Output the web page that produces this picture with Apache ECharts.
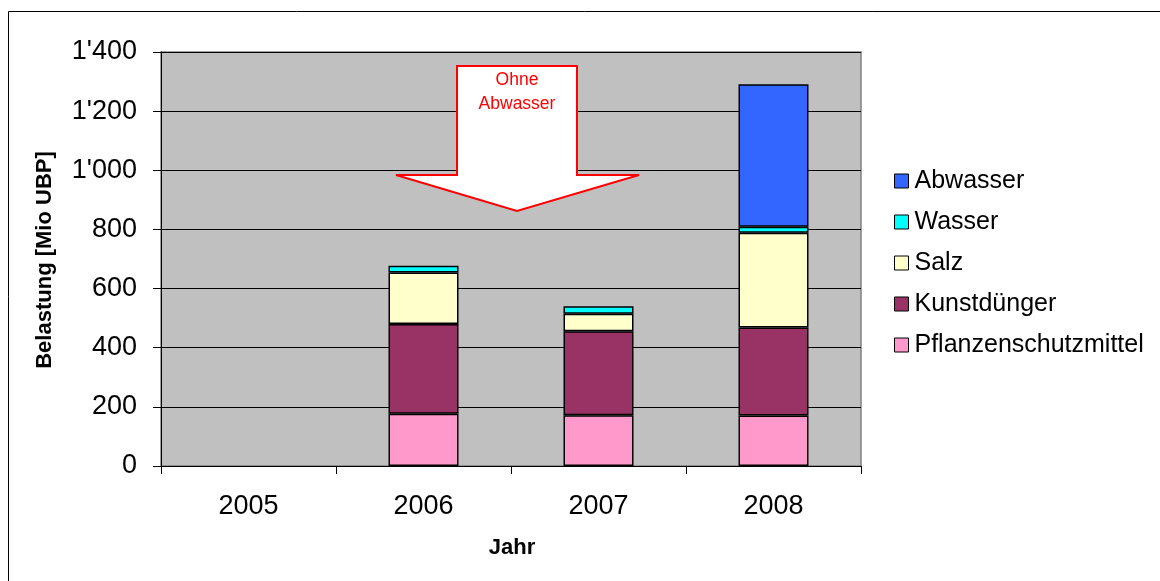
<!DOCTYPE html>
<html>
<head>
<meta charset="utf-8">
<script src="https://cdn.jsdelivr.net/npm/echarts@6/dist/echarts.min.js"></script>
<style>
  html, body { margin: 0; padding: 0; background: #ffffff; }
  #chart { width: 1160px; height: 581px; }
</style>
</head>
<body>
<div id="chart"></div>
<script>
// Jahre und Belastung je Quelle (Mio UBP)
const years = ['2005', '2006', '2007', '2008'];
const pflanzenschutzmittel = [null, 177, 172, 171];
const kunstduenger = [null, 303, 284, 297];
const salz = [null, 174, 59, 321];
const wasser = [null, 23, 25, 20];
const abwasser = [null, null, null, 482];

const yTicks = [0, 200, 400, 600, 800, 1000, 1200, 1400];
const legendOrder = ['Abwasser', 'Wasser', 'Salz', 'Kunstdünger', 'Pflanzenschutzmittel'];

const FONT = "'Liberation Sans', Arial, sans-serif";

// Tausendertrennzeichen mit Apostroph (1'400)
function swissFormat(v) {
  if (v >= 1000) {
    const rest = String(v % 1000).padStart(3, '0');
    return Math.floor(v / 1000) + "'" + rest;
  }
  return String(v);
}

function stackSeries(name, data, color) {
  return {
    name: name,
    type: 'bar',
    stack: 'total',
    data: data,
    barWidth: '40%',
    itemStyle: { color: color, borderColor: '#000000', borderWidth: 1.5 },
    emphasis: { disabled: true }
  };
}

const chart = echarts.init(document.getElementById('chart'), null, { renderer: 'canvas' });

chart.setOption({
  animation: false,
  backgroundColor: '#ffffff',
  textStyle: { fontFamily: FONT },
  grid: {
    left: 161, top: 52, width: 700, height: 414,
    show: true, backgroundColor: '#C0C0C0', borderColor: '#808080', borderWidth: 1.5
  },
  legend: {
    orient: 'vertical',
    left: 889, top: 163,
    itemWidth: 14, itemHeight: 14, itemGap: 15,
    icon: 'rect',
    data: legendOrder,
    textStyle: { fontFamily: FONT, fontSize: 25, color: '#000000', lineHeight: 26, padding: [0, 0, 0, 1] },
    itemStyle: { borderColor: '#000000', borderWidth: 1 }
  },
  xAxis: {
    type: 'category',
    data: years,
    axisLine: { lineStyle: { color: '#000000', width: 1 } },
    axisTick: { show: true, alignWithLabel: false, length: 8, lineStyle: { color: '#000000' } },
    axisLabel: { fontFamily: FONT, fontSize: 27, color: '#000000', margin: 27 },
    splitLine: { show: false }
  },
  yAxis: {
    type: 'value',
    min: 0, max: 1400, interval: 200,
    axisLine: { show: true, lineStyle: { color: '#000000', width: 1 } },
    axisTick: { show: true, length: 8, lineStyle: { color: '#000000' } },
    axisLabel: {
      fontFamily: FONT, fontSize: 27, color: '#000000', margin: 24,
      formatter: function (v) { return yTicks.indexOf(v) >= 0 ? swissFormat(v) : ''; }
    },
    splitLine: { show: true, lineStyle: { color: '#000000', width: 1 } }
  },
  series: [
    stackSeries('Pflanzenschutzmittel', pflanzenschutzmittel, '#FF99CC'),
    stackSeries('Kunstdünger', kunstduenger, '#993366'),
    stackSeries('Salz', salz, '#FFFFCC'),
    stackSeries('Wasser', wasser, '#00FFFF'),
    stackSeries('Abwasser', abwasser, '#3366FF')
  ],
  graphic: [
    // Rahmen um das Diagramm
    {
      type: 'rect', silent: true, z: 0,
      shape: { x: 8.5, y: 11.5, width: 1200, height: 700 },
      style: { fill: 'none', stroke: '#000000', lineWidth: 1 }
    },
    // Achsentitel
    {
      type: 'text', silent: true,
      x: 45, y: 260, rotation: Math.PI / 2,
      style: {
        text: 'Belastung [Mio UBP]', fontFamily: FONT, fontSize: 22, fontWeight: 'bold',
        fill: '#000000', align: 'center', verticalAlign: 'middle'
      }
    },
    {
      type: 'text', silent: true,
      x: 512, y: 548,
      style: {
        text: 'Jahr', fontFamily: FONT, fontSize: 22, fontWeight: 'bold',
        fill: '#000000', align: 'center', verticalAlign: 'middle'
      }
    },
    // Hinweispfeil
    {
      type: 'polygon', silent: true, z: 100,
      shape: {
        points: [[457, 66], [577, 66], [577, 175], [639, 175], [517, 211], [396, 175], [457, 175]]
      },
      style: { fill: '#ffffff', stroke: '#FF0000', lineWidth: 2, lineJoin: 'miter', miterLimit: 2 }
    },
    {
      type: 'text', silent: true, z: 101,
      x: 517, y: 80,
      style: { text: 'Ohne', fontFamily: FONT, fontSize: 17.5, fill: '#FF0000', align: 'center', verticalAlign: 'middle' }
    },
    {
      type: 'text', silent: true, z: 101,
      x: 517, y: 104,
      style: { text: 'Abwasser', fontFamily: FONT, fontSize: 17.5, fill: '#FF0000', align: 'center', verticalAlign: 'middle' }
    }
  ]
});
</script>
</body>
</html>
